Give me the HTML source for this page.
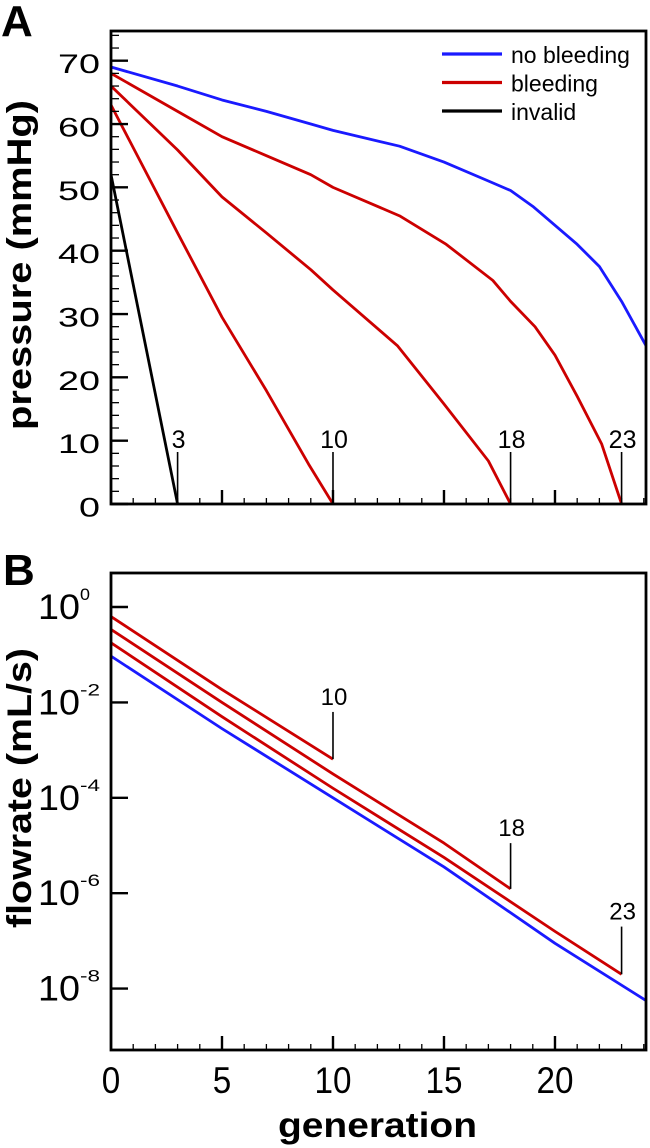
<!DOCTYPE html>
<html><head><meta charset="utf-8">
<style>
html,body{margin:0;padding:0;background:#fff;}
svg{display:block;font-family:"Liberation Sans","DejaVu Sans",sans-serif;}
</style></head>
<body>
<svg id="chart" width="650" height="1148" viewBox="0 0 650 1148">
  <text x="1" y="36" font-size="44" font-weight="bold">A</text>
  <text x="3" y="585" font-size="44" font-weight="bold">B</text>
  <g id="pa"></g>
  <g id="pb"></g>
</svg>
<script>
// ---------- Panel A data ----------
const pressureTicks = [0,10,20,30,40,50,60,70];
const genTicks = [0,5,10,15,20];
const blueGen = [0,3,5,7,9,10,13,15,17,18,19,20,21,22,23,24.1];
const bluePress = [69,66,63.8,62,60,59,56.5,54,51,49.5,47,44,41,37.5,32,25];
const red1Gen = [0,3,5,7,9,10,13,15.1,17.2,18,19.1,20,21,22.1,23];
const red1Press = [68,62,58,55,52,50,45.5,41,35.3,32,28,23.5,17,9.5,0];
const red2Gen = [0,3,5,7,9,10,12.9,15,17,18];
const red2Press = [66,55.9,48.5,42.8,37,33.8,25,15.8,6.8,0];
const red3Gen = [0,3,5,7,8.9,10];
const red3Press = [63,42.8,29.5,17.9,6.3,0];
const blackGen = [0,3];
const blackPress = [52,0];
const endGens = [3,10,18,23];
const endLabels = ["3","10","18","23"];
// ---------- Panel B data ----------
const flowTickExp = [0,-2,-4,-6,-8];
const fRed1Gen = [0,5,10];
const fRed1Log = [-0.2,-1.73,-3.19];
const fRed2Gen = [0,5,10,15,18];
const fRed2Log = [-0.47,-2.0,-3.5,-4.95,-5.91];
const fRed3Gen = [0,5,10,15,20,23];
const fRed3Log = [-0.75,-2.3,-3.8,-5.25,-6.8,-7.7];
const fBlueGen = [0,5,10,15,20,24.1];
const fBlueLog = [-1.03,-2.55,-4.0,-5.45,-7.05,-8.25];
const fEndGens = [10,18,23];
const fEndLabels = ["10","18","23"];
const fEndTopLog = [-2.2,-4.95,-6.7];

const NS="http://www.w3.org/2000/svg";
function mk(parent,tag,attrs,txt){const e=document.createElementNS(NS,tag);for(const k in attrs)e.setAttribute(k,attrs[k]);if(txt!==undefined)e.textContent=txt;parent.appendChild(e);return e;}
const L=111,R=646;
const xS=g=>L+(g-0)/24.1*(R-L);
const RED="#cc0000",BLUE="#1a1aff";

// ---------- Panel A ----------
const pa=document.getElementById('pa');
const aT=31,aB=504;
const yA=v=>aB-(v/70)*(aB-60.7);
function poly(parent,xs,ys,xf,yf,color,name){
  const p=mk(parent,'polyline',{points:xs.map((g,i)=>xf(g)+','+yf(ys[i])).join(' '),fill:'none',stroke:color,'stroke-width':2.8,'stroke-linejoin':'round'});
  
  
}
const clipA=mk(pa,'clipPath',{id:'ca'});mk(clipA,'rect',{x:L,y:aT,width:R-L,height:aB-aT});
const ga=mk(pa,'g',{'clip-path':'url(#ca)'});
poly(ga,blackGen,blackPress,xS,yA,'#000','invalid-line');
poly(ga,red3Gen,red3Press,xS,yA,RED,'bleeding-line-gen10');
poly(ga,red2Gen,red2Press,xS,yA,RED,'bleeding-line-gen18');
poly(ga,red1Gen,red1Press,xS,yA,RED,'bleeding-line-gen23');
poly(ga,blueGen,bluePress,xS,yA,BLUE,'no-bleeding-line');
for(let v=0;v<=74;v+=2){const maj=v%10===0;const t=mk(pa,'line',{x1:L,x2:L+(maj?17:8),y1:yA(v),y2:yA(v),stroke:'#000','stroke-width':maj?2.4:1.3});
  }
pressureTicks.forEach(v=>{const s=String(v);const t=mk(pa,'text',{x:100-s.length*21,y:yA(v)+12.5,'font-size':27,textLength:s.length*21,lengthAdjust:'spacingAndGlyphs'},s);
  });
for(let g=1;g<=24;g++){const maj=g%5===0;const t=mk(pa,'line',{x1:xS(g),x2:xS(g),y1:aB,y2:aB-(maj?14:6),stroke:'#000','stroke-width':maj?2.4:1.3});
  }
endGens.forEach((g,i)=>{
  const l=mk(pa,'line',{x1:xS(g),x2:xS(g),y1:aB,y2:452,stroke:'#000','stroke-width':1.6});
  
  const t=mk(pa,'text',{x:xS(g)+1,y:448,'font-size':25,'text-anchor':'middle'},endLabels[i]);
  
});
mk(pa,'rect',{x:L,y:aT,width:R-L,height:aB-aT,fill:'none',stroke:'#000','stroke-width':2.8,});
const ytA=mk(pa,'text',{x:0,y:0,'font-size':34,'font-weight':'bold','text-anchor':'middle',textLength:330,lengthAdjust:'spacingAndGlyphs',transform:`translate(31,265) rotate(-90)`},'pressure (mmHg)');

const legItems=[[BLUE,'no bleeding'],[RED,'bleeding'],['#000','invalid']];
legItems.forEach((it,i)=>{const y=54+i*28.5;
  const g=mk(pa,'g',{});
  mk(g,'line',{x1:442,x2:502,y1:y,y2:y,stroke:it[0],'stroke-width':3.2});
  mk(g,'text',{x:511,y:y+9,'font-size':23},it[1]);});

// ---------- Panel B ----------
const pb=document.getElementById('pb');
const bT=573,bB=1050;
const yB=l=>607-l*47.7;
const clipB=mk(pb,'clipPath',{id:'cb'});mk(clipB,'rect',{x:L,y:bT,width:R-L,height:bB-bT});
const gb=mk(pb,'g',{'clip-path':'url(#cb)'});
poly(gb,fBlueGen,fBlueLog,xS,yB,BLUE,'no-bleeding-flow-line');
poly(gb,fRed3Gen,fRed3Log,xS,yB,RED,'bleeding-flow-gen23');
poly(gb,fRed2Gen,fRed2Log,xS,yB,RED,'bleeding-flow-gen18');
poly(gb,fRed1Gen,fRed1Log,xS,yB,RED,'bleeding-flow-gen10');
flowTickExp.forEach(e=>{
  const t=mk(pb,'line',{x1:L,x2:L+17,y1:yB(e),y2:yB(e),stroke:'#000','stroke-width':2.4});
  
  const tx=mk(pb,'text',{x:38,y:yB(e)+12,'font-size':35,textLength:42,lengthAdjust:'spacingAndGlyphs'},'10');
  
  const sp=mk(pb,'text',{x:80,y:yB(e)-7,'font-size':17,textLength:String(e).length*10,lengthAdjust:'spacingAndGlyphs'},String(e));
  
});
for(let g=1;g<=24;g++){const maj=g%5===0;const t=mk(pb,'line',{x1:xS(g),x2:xS(g),y1:bB,y2:bB-(maj?14:6),stroke:'#000','stroke-width':maj?2.4:1.3});
  }
genTicks.forEach(g=>{const s=String(g);const w=s.length*18.5;const t=mk(pb,'text',{x:xS(g)-w/2,y:1093,'font-size':37,textLength:w,lengthAdjust:'spacingAndGlyphs'},s);
  });
fEndGens.forEach((g,i)=>{
  const endLog=[fRed1Log[fRed1Log.length-1],fRed2Log[fRed2Log.length-1],fRed3Log[fRed3Log.length-1]][i];
  const l=mk(pb,'line',{x1:xS(g),x2:xS(g),y1:yB(endLog),y2:yB(fEndTopLog[i]),stroke:'#000','stroke-width':1.6});
  
  const t=mk(pb,'text',{x:xS(g)+1,y:yB(fEndTopLog[i])-7,'font-size':24,'text-anchor':'middle'},fEndLabels[i]);
  
});
mk(pb,'rect',{x:L,y:bT,width:R-L,height:bB-bT,fill:'none',stroke:'#000','stroke-width':2.8,});
const ytB=mk(pb,'text',{x:0,y:0,'font-size':34,'font-weight':'bold','text-anchor':'middle',textLength:280,lengthAdjust:'spacingAndGlyphs',transform:`translate(31,788) rotate(-90)`},'flowrate (mL/s)');

const xt=mk(pb,'text',{x:278,y:1137,'font-size':35,'font-weight':'bold',textLength:199,lengthAdjust:'spacingAndGlyphs'},'generation');

</script>
</body></html>
